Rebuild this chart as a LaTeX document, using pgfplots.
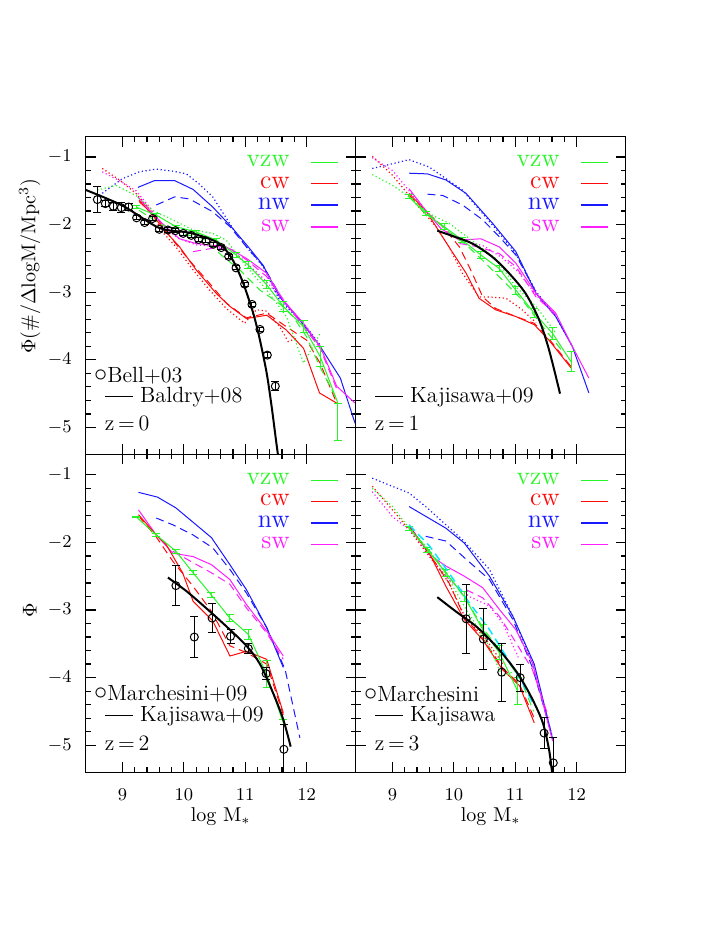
\documentclass[border=0pt]{standalone}
\usepackage{graphicx}
\usepackage{pgfplots}
\pgfplotsset{compat=1.18}
\usepgfplotslibrary{groupplots}

\definecolor{vgreen}{RGB}{40,245,40}
\definecolor{vred}{RGB}{255,10,10}
\definecolor{vblue}{RGB}{25,25,255}
\definecolor{vmag}{RGB}{255,30,255}
\definecolor{vcyan}{RGB}{0,230,255}

\tikzset{
  sol/.style={line width=0.5pt},
  das/.style={line width=0.5pt, dash pattern=on 4pt off 2.5pt},
  dot/.style={line width=0.6pt, dash pattern=on 0.6pt off 1.3pt},
  fit/.style={black, line width=1pt},
}
\pgfplotsset{
  errs/.style={error bars/y dir=both, error bars/y explicit,
    error bars/error bar style={line width=0.5pt},
    error bars/error mark options={rotate=90, mark size=2pt, line width=0.5pt}},
  obs/.style={black, only marks, mark=o, mark size=2pt,
    mark options={line width=0.5pt}, errs},
  legend image code/.code={\draw[#1] (0pt,0pt) -- (13.5pt,0pt);},
}
\newcommand\wleg{%
  \addlegendimage{vgreen,line width=0.6pt}\addlegendentry{\textcolor{vgreen}{vzw}}
  \addlegendimage{vred,sol}\addlegendentry{\textcolor{vred}{cw}}
  \addlegendimage{vblue,line width=0.8pt}\addlegendentry{\textcolor{vblue}{nw}}
  \addlegendimage{vmag,line width=0.9pt}\addlegendentry{\textcolor{vmag}{sw}}}
\newcommand\ocirc{\raisebox{0.1ex}{\scalebox{1.2}{$\circ$}}}
\newcommand\lsamp{\rule[0.55ex]{14pt}{0.5pt}}

\begin{document}
\begin{tikzpicture}
\begin{groupplot}[
  group style={group size=2 by 2, horizontal sep=0pt, vertical sep=0pt,
    xticklabels at=edge bottom, yticklabels at=edge left},
  scale only axis, width=135pt, height=158.9pt,
  xmin=8.4, xmax=12.8, ymin=-5.4, ymax=-0.7,
  xtick={9,10,11,12}, ytick={-5,-4,-3,-2,-1},
  minor x tick num=4, minor y tick num=4,
  tick align=inside, major tick length=5pt, minor tick length=2.5pt,
  axis line style={line width=0.75pt}, tick style={line width=0.6pt, black},
  ticklabel style={font=\fontsize{9.5}{11}\selectfont},
  xticklabel style={yshift=-5pt}, yticklabel style={xshift=-3.5pt},
  clip mode=individual,
  legend style={at={(rel axis cs:0.96,0.965)}, anchor=north east, draw=none, fill=none,
    font=\fontsize{13}{14}\selectfont, row sep=0.5pt,
    nodes={inner ysep=1.5pt},
    /tikz/every odd column/.append style={column sep=8pt}},
  legend plot pos=right, legend cell align=right,
  label style={font=\fontsize{10}{12}\selectfont},
]
% ---------------- z = 0 ----------------
\nextgroupplot[ylabel={$\Phi$(\#/$\Delta$logM/Mpc$^3$)},
  ylabel style={at={(axis description cs:-0.207,0.593)}, anchor=center}]
\wleg
\addplot[vblue,dot,forget plot] coordinates {(8.62,-1.57)(9.0,-1.32)(9.27,-1.22)(9.55,-1.18)(9.82,-1.21)(10.04,-1.25)(10.25,-1.4)(10.47,-1.59)(10.8,-2.06)(11.02,-2.33)(11.29,-2.62)(11.56,-3.12)(11.95,-3.46)(12.22,-3.78)};
\addplot[vblue,sol,forget plot] coordinates {(9.25,-1.45)(9.52,-1.35)(9.85,-1.35)(10.15,-1.48)(10.47,-1.74)(10.77,-2.03)(11.05,-2.33)(11.29,-2.6)(11.56,-3.07)(11.89,-3.41)(12.22,-3.8)(12.55,-4.27)(12.79,-4.94)};
\addplot[vblue,das,forget plot] coordinates {(9.55,-1.71)(9.85,-1.59)(10.09,-1.62)(10.47,-1.81)(10.75,-2.03)(11.02,-2.33)(11.3,-2.62)(11.6,-3.1)};
\addplot[vred,dot,forget plot] coordinates {(8.67,-1.17)(8.95,-1.34)(9.22,-1.54)(9.46,-1.79)(9.65,-2.11)(9.87,-2.33)(10.15,-2.67)(10.42,-2.97)(10.69,-3.24)(10.99,-3.46)(11.18,-3.26)(11.35,-3.28)(11.56,-3.51)(11.7,-3.73)(11.84,-3.68)};
\addplot[vred,sol,forget plot] coordinates {(9.27,-1.64)(9.49,-1.86)(9.71,-2.11)(9.93,-2.33)(10.2,-2.67)(10.53,-3.02)(10.75,-3.21)(11.02,-3.39)(11.35,-3.34)(11.67,-3.56)(11.95,-3.83)(12.21,-4.49)(12.49,-4.64)};
\addplot[vred,das,forget plot] coordinates {(9.27,-1.66)(9.55,-1.89)(9.82,-2.23)(10.09,-2.53)(10.42,-2.87)(10.69,-3.16)(11.02,-3.38)(11.35,-3.31)(11.67,-3.51)(12.0,-3.71)(12.22,-4.05)(12.49,-4.64)};
\addplot[vmag,dot,forget plot] coordinates {(8.67,-1.22)(8.95,-1.35)(9.22,-1.5)(9.44,-1.74)(9.65,-2.0)(9.9,-2.2)(10.2,-2.3)(10.5,-2.32)(10.75,-2.36)(11.0,-2.55)(11.3,-2.8)(11.6,-3.1)(11.9,-3.45)(12.2,-3.8)};
\addplot[vmag,sol,forget plot] coordinates {(9.25,-1.59)(9.49,-1.84)(9.76,-2.08)(9.93,-2.21)(10.2,-2.28)(10.69,-2.33)(11.02,-2.5)(11.35,-2.72)(11.62,-3.12)(11.95,-3.46)(12.22,-3.8)(12.49,-4.39)(12.79,-4.64)};
\addplot[vmag,das,forget plot] coordinates {(10.15,-2.4)(10.47,-2.35)(10.75,-2.35)(11.02,-2.52)(11.35,-2.77)(11.67,-3.17)(11.95,-3.51)(12.22,-3.83)(12.5,-4.45)};
\addplot[vgreen,dot,forget plot] coordinates {(8.59,-1.49)(8.89,-1.42)(9.22,-1.57)(9.49,-1.79)(9.82,-1.93)(10.15,-2.08)(10.47,-2.13)(10.69,-2.23)(11.02,-2.62)(11.35,-2.97)(11.67,-3.36)(11.95,-4.05)(12.22,-3.61)};
\addplot[vgreen,das,forget plot] coordinates {(9.27,-1.79)(9.6,-1.98)(9.93,-2.13)(10.3,-2.2)(10.61,-2.45)(10.91,-2.67)(11.24,-2.97)(11.56,-3.17)(11.78,-3.36)(12.0,-3.66)(12.22,-4.11)(12.5,-4.6)};
\addplot[vgreen,sol,forget plot,errs] coordinates {(9.22,-1.74)+-(0,0.02)(9.55,-1.86)+-(0,0.02)(9.87,-2.03)+-(0,0.02)(10.2,-2.11)+-(0,0.02)(10.53,-2.23)+-(0,0.03)(10.85,-2.45)+-(0,0.04)(11.05,-2.6)+-(0,0.05)(11.35,-2.89)+-(0,0.06)(11.62,-3.21)+-(0,0.07)(11.95,-3.51)+-(0,0.09)(12.22,-3.95)+-(0,0.15)(12.51,-4.64)+=(0,0)-=(0,0.56)};
\addplot[fit,smooth,forget plot] coordinates {(8.38,-1.48)(9.0,-1.72)(9.6,-2.05)(10.09,-2.12)(10.47,-2.23)(10.64,-2.33)(10.8,-2.53)(10.96,-2.85)(11.13,-3.31)(11.24,-3.71)(11.35,-4.2)(11.43,-4.69)(11.5,-5.18)(11.54,-5.45)};
\addplot[obs,forget plot] coordinates {(8.59,-1.63)+-(0,0.19)(8.72,-1.69)+-(0,0.04)(8.85,-1.73)+-(0,0.06)(8.98,-1.75)+-(0,0.07)(9.10,-1.74)+-(0,0.05)(9.23,-1.90)+-(0,0.03)(9.36,-1.97)+-(0,0.03)(9.49,-1.91)+-(0,0.03)(9.60,-2.07)+-(0,0.03)(9.74,-2.08)+-(0,0.03)(9.86,-2.09)+-(0,0.03)(9.99,-2.13)+-(0,0.03)(10.12,-2.16)+-(0,0.03)(10.24,-2.22)+-(0,0.03)(10.36,-2.24)+-(0,0.03)(10.48,-2.29)+-(0,0.03)(10.61,-2.34)+-(0,0.03)(10.73,-2.47)+-(0,0.03)(10.85,-2.64)+-(0,0.03)(10.99,-2.88)+-(0,0.03)(11.11,-3.18)+-(0,0.03)(11.24,-3.55)+-(0,0.03)(11.36,-3.93)+-(0,0.04)(11.49,-4.39)+-(0,0.07)};
\node[anchor=west,font=\fontsize{11}{12}\selectfont] at (rel axis cs:0.005,0.247) {\ocirc Bell+03};
\node[anchor=west,font=\fontsize{11}{12}\selectfont] at (rel axis cs:0.045,0.181) {\lsamp\,\,Baldry+08};
\node[anchor=west,font=\fontsize{11}{12}\selectfont] at (rel axis cs:0.045,0.099) {z\,=\,0};
% ---------------- z = 1 ----------------
\nextgroupplot
\wleg
\addplot[vblue,dot,forget plot] coordinates {(8.67,-1.17)(9.0,-1.1)(9.27,-1.04)(9.6,-1.15)(10.14,-1.49)(10.68,-2.06)(11.01,-2.43)(11.34,-2.99)(11.66,-3.36)(11.93,-3.8)};
\addplot[vblue,sol,forget plot] coordinates {(9.27,-1.24)(9.57,-1.25)(9.87,-1.34)(10.2,-1.54)(10.63,-1.98)(11.01,-2.4)(11.34,-3.02)(11.66,-3.36)(11.93,-3.8)(12.2,-4.49)};
\addplot[vblue,das,forget plot] coordinates {(9.57,-1.55)(9.82,-1.57)(10.14,-1.71)(10.47,-1.93)(10.74,-2.18)(11.01,-2.45)(11.34,-3.0)};
\addplot[vred,dot,forget plot] coordinates {(8.67,-0.99)(9.0,-1.27)(9.38,-1.69)(9.71,-2.03)(9.92,-2.33)(10.14,-2.72)(10.41,-3.07)(10.58,-3.07)(10.85,-3.09)(11.1,-3.25)(11.34,-3.45)};
\addplot[vred,sol,forget plot] coordinates {(9.27,-1.54)(9.54,-1.79)(9.73,-2.06)(9.92,-2.33)(10.2,-2.72)(10.41,-3.09)(10.68,-3.26)(11.01,-3.36)(11.31,-3.48)(11.55,-3.71)(11.91,-4.12)};
\addplot[vred,das,forget plot] coordinates {(9.27,-1.57)(9.54,-1.8)(9.82,-2.03)(10.09,-2.33)(10.3,-2.72)(10.47,-3.07)(10.68,-3.24)(11.01,-3.36)(11.31,-3.46)(11.55,-3.69)(11.91,-4.1)};
\addplot[vmag,dot,forget plot] coordinates {(8.67,-1.01)(9.0,-1.2)(9.27,-1.5)(9.6,-1.85)(9.9,-2.1)(10.2,-2.25)(10.5,-2.32)(10.8,-2.5)(11.05,-2.7)(11.35,-3.05)(11.66,-3.35)};
\addplot[vmag,sol,forget plot] coordinates {(9.27,-1.47)(9.54,-1.79)(9.79,-2.06)(10.09,-2.23)(10.44,-2.21)(10.74,-2.33)(11.01,-2.57)(11.34,-3.02)(11.66,-3.31)(11.93,-3.8)(12.2,-4.27)};
\addplot[vmag,das,forget plot] coordinates {(10.09,-2.28)(10.41,-2.33)(10.74,-2.43)(11.01,-2.62)(11.34,-3.07)(11.66,-3.33)};
\addplot[vgreen,dot,forget plot] coordinates {(8.67,-1.26)(9.0,-1.42)(9.27,-1.59)(9.6,-1.84)(9.92,-1.98)(10.36,-2.28)(10.68,-2.5)(11.01,-2.92)(11.34,-3.21)(11.66,-3.6)};
\addplot[vgreen,das,forget plot] coordinates {(9.27,-1.59)(9.6,-1.86)(9.92,-2.11)(10.2,-2.3)(10.47,-2.53)(10.79,-2.82)(11.12,-3.12)(11.45,-3.51)(11.75,-3.85)};
\addplot[vgreen,sol,forget plot,errs] coordinates {(9.27,-1.59)+-(0,0.03)(9.54,-1.84)+-(0,0.03)(9.84,-2.03)+-(0,0.04)(10.14,-2.23)+-(0,0.04)(10.44,-2.45)+-(0,0.05)(10.74,-2.65)+-(0,0.05)(11.01,-2.97)+-(0,0.06)(11.31,-3.31)+-(0,0.07)(11.61,-3.61)+-(0,0.09)(11.91,-4.03)+-(0,0.15)};
\addplot[fit,smooth,forget plot] coordinates {(9.73,-2.09)(9.98,-2.17)(10.3,-2.28)(10.63,-2.48)(10.9,-2.72)(11.17,-3.02)(11.39,-3.41)(11.55,-3.85)(11.73,-4.5)};
\node[anchor=west,font=\fontsize{11}{12}\selectfont] at (rel axis cs:0.045,0.181) {\lsamp\,\,Kajisawa+09};
\node[anchor=west,font=\fontsize{11}{12}\selectfont] at (rel axis cs:0.045,0.099) {z\,=\,1};
% ---------------- z = 2 ----------------
\nextgroupplot[ylabel={$\Phi$}, xlabel={log M$_*$},
  ylabel style={at={(axis description cs:-0.207,0.51)}, anchor=center},
  xlabel style={at={(axis description cs:0.5,-0.14)}, anchor=center}]
\wleg
\addplot[vblue,sol,forget plot] coordinates {(9.26,-1.26)(9.57,-1.33)(9.87,-1.49)(10.45,-1.93)(10.75,-2.33)(11.02,-2.7)(11.35,-3.26)(11.62,-3.85)};
\addplot[vblue,das,forget plot] coordinates {(9.55,-1.64)(9.82,-1.74)(10.15,-1.89)(10.47,-2.08)(10.75,-2.4)(11.02,-2.75)(11.35,-3.26)(11.65,-3.88)(11.89,-4.89)};
\addplot[vmag,sol,forget plot] coordinates {(9.26,-1.52)(9.55,-1.89)(9.82,-2.16)(10.15,-2.21)(10.45,-2.33)(10.75,-2.55)(11.02,-2.92)(11.35,-3.31)(11.62,-3.68)};
\addplot[vmag,das,forget plot] coordinates {(9.82,-2.13)(10.15,-2.3)(10.45,-2.45)(10.75,-2.62)(11.02,-2.97)(11.35,-3.34)(11.62,-3.73)};
\addplot[vred,sol,forget plot] coordinates {(9.26,-1.59)(9.55,-1.89)(9.71,-2.03)(9.98,-2.45)(10.15,-2.87)(10.47,-3.16)(10.75,-3.68)(11.02,-3.61)(11.35,-3.73)(11.62,-4.52)};
\addplot[vred,das,forget plot] coordinates {(9.26,-1.61)(9.55,-1.92)(9.82,-2.28)(10.15,-2.65)(10.45,-3.02)(10.75,-3.53)(11.02,-3.63)(11.35,-3.8)(11.62,-4.55)};
\addplot[vgreen,sol,forget plot,errs] coordinates {(9.22,-1.62)+-(0,0.01)(9.55,-1.89)+-(0,0.02)(9.87,-2.13)+-(0,0.03)(10.15,-2.45)+-(0,0.03)(10.45,-2.78)+-(0,0.04)(10.75,-3.12)+-(0,0.05)(11.05,-3.36)+-(0,0.07)(11.35,-3.95)+-(0,0.2)(11.62,-4.67)+=(0,0.05)-=(0,1.0)};
\addplot[fit,smooth,forget plot] coordinates {(9.74,-2.52)(10.04,-2.72)(10.36,-2.97)(10.69,-3.24)(11.02,-3.53)(11.24,-3.8)(11.45,-4.22)(11.62,-4.62)(11.74,-5.02)};
\addplot[obs,forget plot] coordinates {(9.87,-2.64)+-(0,0.3)(10.17,-3.40)+-(0,0.3)(10.46,-3.12)+-(0,0.21)(10.76,-3.39)+-(0,0.1)(11.05,-3.57)+-(0,0.08)(11.34,-3.94)+-(0,0.09)(11.63,-5.06)+-(0,0.37)};
\node[anchor=west,font=\fontsize{11}{12}\selectfont] at (rel axis cs:0.005,0.247) {\ocirc Marchesini+09};
\node[anchor=west,font=\fontsize{11}{12}\selectfont] at (rel axis cs:0.045,0.176) {\lsamp\,\,Kajisawa+09};
\node[anchor=west,font=\fontsize{11}{12}\selectfont] at (rel axis cs:0.045,0.09) {z\,=\,2};
% ---------------- z = 3 ----------------
\nextgroupplot[xlabel={log M$_*$},
  xlabel style={at={(axis description cs:0.5,-0.14)}, anchor=center}]
\wleg
\addplot[vblue,dot,forget plot] coordinates {(8.67,-1.05)(9.27,-1.27)(9.54,-1.47)(10.14,-1.96)(10.58,-2.4)(10.96,-3.09)(11.28,-3.78)(11.61,-4.89)};
\addplot[vblue,sol,forget plot] coordinates {(9.27,-1.47)(9.87,-1.79)(10.17,-2.01)(10.58,-2.5)(10.96,-3.09)(11.31,-3.8)(11.61,-4.91)};
\addplot[vblue,das,forget plot] coordinates {(9.54,-1.91)(9.87,-1.98)(10.2,-2.25)(10.58,-2.55)(10.96,-3.14)(11.28,-3.85)(11.58,-4.8)};
\addplot[vmag,dot,forget plot] coordinates {(8.67,-1.25)(9.0,-1.62)(9.27,-1.81)(9.6,-2.21)(9.92,-2.55)(10.25,-2.8)(10.58,-2.94)(10.8,-3.2)(11.05,-3.7)};
\addplot[vmag,sol,forget plot] coordinates {(9.27,-1.74)(9.6,-2.18)(9.87,-2.35)(10.17,-2.5)(10.47,-2.67)(10.74,-2.99)(11.01,-3.29)(11.28,-3.78)(11.61,-4.94)};
\addplot[vmag,das,forget plot] coordinates {(10.2,-2.7)(10.47,-2.82)(10.74,-3.09)(11.01,-3.48)(11.28,-3.88)(11.55,-4.6)};
\addplot[vred,dot,forget plot] coordinates {(8.67,-1.17)(9.0,-1.52)(9.27,-1.81)(9.6,-2.2)(9.92,-2.6)(10.2,-3.14)(10.5,-3.4)(10.8,-3.8)};
\addplot[vred,sol,forget plot] coordinates {(9.27,-1.76)(9.6,-2.16)(9.87,-2.65)(10.17,-3.14)(10.47,-3.44)(10.79,-3.88)(11.07,-4.12)(11.31,-4.67)};
\addplot[vred,das,forget plot] coordinates {(9.27,-1.77)(9.6,-2.17)(9.92,-2.6)(10.17,-3.1)(10.47,-3.42)(10.79,-3.85)(11.07,-4.1)(11.31,-4.6)};
\addplot[vgreen,dot,forget plot] coordinates {(8.67,-1.2)(9.0,-1.47)(9.27,-1.79)(9.6,-2.11)(9.92,-2.55)(10.2,-2.99)(10.52,-3.44)(10.79,-3.98)(11.0,-3.9)};
\addplot[vgreen,das,forget plot] coordinates {(9.27,-1.79)(9.6,-2.12)(9.92,-2.5)(10.2,-2.85)(10.5,-3.3)(10.8,-3.65)(11.1,-4.05)(11.3,-4.5)};
\addplot[vgreen,sol,forget plot,errs] coordinates {(9.27,-1.79)+-(0,0.03)(9.57,-2.11)+-(0,0.04)(9.87,-2.45)+-(0,0.05)(10.17,-2.8)+-(0,0.07)(10.47,-3.29)+-(0,0.08)(10.74,-3.63)+-(0,0.1)(11.04,-4.2)+-(0,0.2)};
\addplot[vcyan,das,line width=0.7pt,forget plot] coordinates {(9.27,-1.74)(9.6,-2.05)(9.92,-2.45)(10.25,-2.89)(10.58,-3.29)(10.85,-3.68)(11.12,-4.08)(11.31,-4.42)};
\addplot[fit,smooth,forget plot] coordinates {(9.73,-2.81)(10.03,-3.02)(10.36,-3.24)(10.63,-3.48)(10.85,-3.71)(11.07,-3.98)(11.28,-4.32)(11.45,-4.67)(11.55,-5.06)(11.6,-5.4)};
\addplot[obs,forget plot] coordinates {(10.2,-3.13)+-(0,0.51)(10.48,-3.43)+-(0,0.45)(10.78,-3.92)+-(0,0.43)(11.08,-4.0)+-(0,0.2)(11.47,-4.82)+-(0,0.23)(11.62,-5.26)+-(0,0.37)};
\node[anchor=west,font=\fontsize{11}{12}\selectfont] at (rel axis cs:0.005,0.247) {\ocirc Marchesini};
\node[anchor=west,font=\fontsize{11}{12}\selectfont] at (rel axis cs:0.045,0.176) {\lsamp\,\,Kajisawa};
\node[anchor=west,font=\fontsize{11}{12}\selectfont] at (rel axis cs:0.045,0.09) {z\,=\,3};
\end{groupplot}
\pgfresetboundingbox
\path ([shift={(-42.85pt,68.35pt)}]group c1r1.north west) rectangle ++(353pt,-470pt);
\end{tikzpicture}
\end{document}
